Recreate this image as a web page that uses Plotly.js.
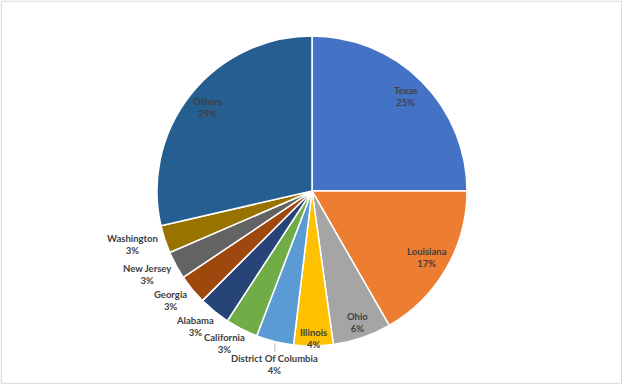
<!DOCTYPE html>
<html>
<head>
<meta charset="utf-8">
<script src="https://cdn.plot.ly/plotly-3.0.1.min.js"></script>
<style>html,body{margin:0;padding:0;background:#fff;}#chart{width:624px;height:386px;}</style>
</head>
<body>
<div id="chart"></div>
<script>
const labels = ["Texas", "Louisiana", "Ohio", "Illinois", "District Of Columbia", "California", "Alabama", "Georgia", "New Jersey", "Washington", "Others"];
const values = [25, 16.7, 6.1, 4.1, 3.9, 3.4, 3.3, 3.1, 2.9, 2.9, 28.6];
const colors = ["#4472C4", "#ED7D31", "#A5A5A5", "#FFC000", "#5B9BD5", "#70AD47", "#264478", "#9E480E", "#636363", "#997300", "#255E91"];

// label placement style: distance of each label from the centre, as a fraction of the radius
const labelRadius = [0.86, 0.86, 0.9, 0.95, 1.13, 1.15, 1.17, 1.16, 1.19, 1.2, 0.86];
const leader = [false, false, false, false, true, false, false, false, false, false, false];
// small pixel nudges for the labels placed outside the pie
const nudgeX = [0, 0, 0, 0, 0, -7, -3, -3, -3, -3, 0];
const nudgeY = [0, 0, 0, 0, 0, -6, -5, -5, -5, -5, 0];

const W = 624, H = 386;
const cyFrac = 0.5052, hFrac = 0.8032;
const R = (hFrac * H) / 2;

const trace = {
  type: "pie",
  labels: labels,
  values: values,
  sort: false,
  direction: "clockwise",
  rotation: 0,
  marker: {colors: colors, line: {color: "#FFFFFF", width: 1.5}},
  textinfo: "none",
  hoverinfo: "label+percent",
  domain: {x: [0, 1], y: [cyFrac - hFrac / 2, cyFrac + hFrac / 2]},
  automargin: false,
  showlegend: false
};

const total = values.reduce((a, b) => a + b, 0);
const font = {family: "Lato, 'Liberation Sans', sans-serif", size: 9.5, color: "#404040", weight: "bold"};
const annotations = [];
let cum = 0;
values.forEach((v, i) => {
  const mid = (cum + v / 2) / total; // fraction clockwise from top
  cum += v;
  const ang = mid * 2 * Math.PI;
  const dx = Math.sin(ang), dy = -Math.cos(ang); // screen coords (dy down)
  const pct = Math.round(v / total * 100) + "%";
  const text = "<b>" + labels[i] + "<br>" + pct + "</b>";
  const r = labelRadius[i] * R;
  if (leader[i]) {
    annotations.push({
      xref: "paper", yref: "paper",
      x: 0.5 + (R * dx) / W, y: cyFrac - (R * dy) / H,
      ax: 0, ay: 23,
      text: text, showarrow: true, arrowhead: 0, arrowwidth: 0.8, arrowcolor: "#A6A6A6",
      standoff: 2, font: font, align: "center"
    });
  } else {
    annotations.push({
      xref: "paper", yref: "paper",
      x: 0.5 + (r * dx + nudgeX[i]) / W, y: cyFrac - (r * dy + nudgeY[i]) / H,
      xanchor: "center", yanchor: "middle",
      text: text, showarrow: false, font: font, align: "center"
    });
  }
});

const layout = {
  width: W,
  height: H,
  margin: {l: 0, r: 0, t: 0, b: 0},
  paper_bgcolor: "#FFFFFF",
  showlegend: false,
  annotations: annotations,
  shapes: [{type: "rect", xref: "paper", yref: "paper", x0: 0.002, x1: 0.996, y0: 0.007, y1: 0.997, line: {color: "#D9D9D9", width: 1}}]
};

Plotly.newPlot("chart", [trace], layout, {displayModeBar: false, staticPlot: true});
</script>
</body>
</html>
